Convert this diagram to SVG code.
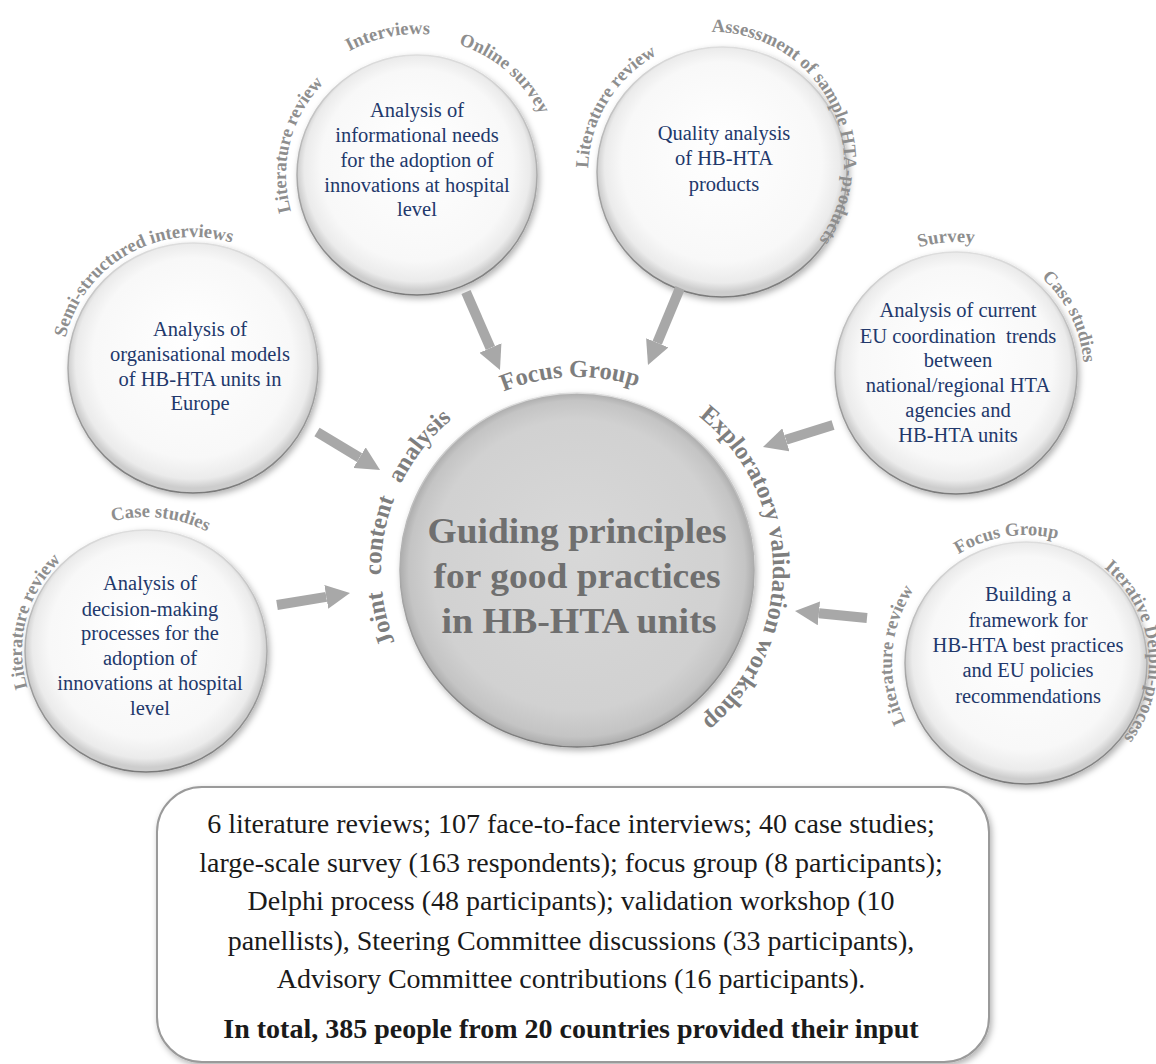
<svg xmlns="http://www.w3.org/2000/svg" width="1156" height="1064" viewBox="0 0 1156 1064">
<style>
.ct{font-family:"Liberation Serif","Times New Roman",serif;font-size:20.5px;fill:#22386b;text-anchor:middle}
.lb{font-family:"Liberation Serif","Times New Roman",serif;font-weight:bold;font-size:18.5px;fill:#8e8e8e;text-anchor:middle}
.lc{font-family:"Liberation Serif","Times New Roman",serif;font-weight:bold;font-size:24.5px;fill:#7e7e7e;text-anchor:middle}
.big{font-family:"Liberation Serif","Times New Roman",serif;font-weight:bold;font-size:35px;fill:#6f6f6f;text-anchor:middle}
.sm{fill:url(#gSmall);stroke:url(#gRim);stroke-width:1.5;filter:url(#sh)}
.bx{font-family:"Liberation Serif","Times New Roman",serif;font-size:28px;fill:#1a1a1a;text-anchor:middle}
.arr{stroke:#a8a8a8;stroke-width:10;fill:none;marker-end:url(#ah)}
</style>
<defs>
<radialGradient id="gSmall" cx="50%" cy="48%" r="50%" fx="50%" fy="38%">
<stop offset="0" stop-color="#ffffff"/>
<stop offset="0.8" stop-color="#f8f8f8"/>
<stop offset="0.94" stop-color="#ebebeb"/>
<stop offset="1" stop-color="#cdcdcd"/>
</radialGradient>
<radialGradient id="gCenter" cx="50%" cy="50%" r="50%" fx="50%" fy="42%">
<stop offset="0" stop-color="#d8d8d8"/>
<stop offset="0.82" stop-color="#d1d1d1"/>
<stop offset="0.95" stop-color="#c4c4c4"/>
<stop offset="1" stop-color="#adadad"/>
</radialGradient>
<linearGradient id="gRim" x1="0" y1="0" x2="0" y2="1">
<stop offset="0" stop-color="#dddddd"/>
<stop offset="1" stop-color="#7a7a7a"/>
</linearGradient>
<filter id="sh" x="-20%" y="-20%" width="140%" height="140%">
<feDropShadow dx="2" dy="3" stdDeviation="3" flood-color="#000" flood-opacity="0.3"/>
</filter>
<marker id="ah" viewBox="0 0 24 24" refX="0" refY="12" markerWidth="24" markerHeight="24" markerUnits="userSpaceOnUse" orient="auto">
<path d="M0,0 L24,12 L0,24 Z" fill="#a8a8a8"/>
</marker>
<path id="a123" d="M-21.36,121.13 A123,123 0 1 1 21.36,121.13"/>
<path id="a124" d="M-21.53,122.12 A124,124 0 1 1 21.53,122.12"/>
<path id="a128" d="M-22.23,126.06 A128,128 0 1 1 22.23,126.06"/>
<path id="a131" d="M-22.75,129.01 A131,131 0 1 1 22.75,129.01"/>
<path id="a134" d="M-23.27,131.96 A134,134 0 1 1 23.27,131.96"/>
<path id="a137" d="M-23.79,134.92 A137,137 0 1 1 23.79,134.92"/>
<path id="a141" d="M-24.48,138.86 A141,141 0 1 1 24.48,138.86"/>
<path id="a193" d="M-33.51,190.07 A193,193 0 1 1 33.51,190.07"/>
<path id="a196" d="M-34.04,193.02 A196,196 0 1 1 34.04,193.02"/>
</defs>
<rect width="1156" height="1064" fill="#ffffff"/>

<g id="n-info">
<circle class="sm" cx="417" cy="175" r="120"/>
<text class="ct"><tspan x="417" y="117">Analysis of</tspan><tspan x="417" y="142">informational needs</tspan><tspan x="417" y="167">for the adoption of</tspan><tspan x="417" y="192">innovations at hospital</tspan><tspan x="417" y="216">level</tspan></text>
<g transform="translate(417,175) rotate(-75.8)"><text class="lb"><textPath href="#a131" startOffset="50%">Literature review</textPath></text></g>
<g transform="translate(417,175) rotate(-11.8)"><text class="lb"><textPath href="#a141" startOffset="50%">Interviews</textPath></text></g>
<g transform="translate(417,175) rotate(40.8)"><text class="lb"><textPath href="#a137" startOffset="50%">Online survey</textPath></text></g>
</g>

<g id="n-quality">
<circle class="sm" cx="722" cy="172" r="125"/>
<text class="ct"><tspan x="724" y="140">Quality analysis</tspan><tspan x="724" y="165">of HB-HTA</tspan><tspan x="724" y="191">products</tspan></text>
<g transform="translate(722,172) rotate(-58.7)"><text class="lb"><textPath href="#a134" startOffset="50%">Literature review</textPath></text></g>
<g transform="translate(713,163) rotate(62.7)"><text class="lb"><textPath href="#a131" startOffset="50%">Assessment of sample HTA-products</textPath></text></g>
</g>

<g id="n-org">
<circle class="sm" cx="193" cy="368" r="125"/>
<text class="ct"><tspan x="200" y="336">Analysis of</tspan><tspan x="200" y="361">organisational models</tspan><tspan x="200" y="386">of HB-HTA units in</tspan><tspan x="200" y="410">Europe</tspan></text>
<g transform="translate(193,368) rotate(-29.75)"><text class="lb"><textPath href="#a131" startOffset="50%">Semi-structured interviews</textPath></text></g>
</g>

<g id="n-eu">
<circle class="sm" cx="956" cy="373" r="121"/>
<text class="ct" xml:space="preserve"><tspan x="958" y="317">Analysis of current</tspan><tspan x="958" y="343">EU coordination  trends</tspan><tspan x="958" y="367">between</tspan><tspan x="958" y="392">national/regional HTA</tspan><tspan x="958" y="417">agencies and</tspan><tspan x="958" y="442">HB-HTA units</tspan></text>
<g transform="translate(956,373) rotate(-4.2)"><text class="lb"><textPath href="#a131" startOffset="50%">Survey</textPath></text></g>
<g transform="translate(956,373) rotate(63.6)"><text class="lb"><textPath href="#a128" startOffset="50%">Case studies</textPath></text></g>
</g>

<g id="n-decision">
<circle class="sm" cx="146" cy="651" r="121"/>
<text class="ct"><tspan x="150" y="590">Analysis of</tspan><tspan x="150" y="616">decision-making</tspan><tspan x="150" y="640">processes for the</tspan><tspan x="150" y="665">adoption of</tspan><tspan x="150" y="690">innovations at hospital</tspan><tspan x="150" y="715">level</tspan></text>
<g transform="translate(146,651) rotate(6.2)"><text class="lb"><textPath href="#a134" startOffset="50%">Case studies</textPath></text></g>
<g transform="translate(146,651) rotate(-75.2)"><text class="lb"><textPath href="#a124" startOffset="50%">Literature review</textPath></text></g>
</g>

<g id="n-framework">
<circle class="sm" cx="1026" cy="663" r="121"/>
<text class="ct"><tspan x="1028" y="601">Building a</tspan><tspan x="1028" y="627">framework for</tspan><tspan x="1028" y="652">HB-HTA best practices</tspan><tspan x="1028" y="677">and EU policies</tspan><tspan x="1028" y="703">recommendations</tspan></text>
<g transform="translate(1026,663) rotate(-8.9)"><text class="lb"><textPath href="#a128" startOffset="50%">Focus Group</textPath></text></g>
<g transform="translate(1026,663) rotate(-86.5)"><text class="lb"><textPath href="#a134" startOffset="50%">Literature review</textPath></text></g>
<g transform="translate(1026,663) rotate(83.5)"><text class="lb"><textPath href="#a123" startOffset="50%">Iterative Delphi-process</textPath></text></g>
</g>

<g id="n-center">
<circle cx="577" cy="570" r="177" fill="url(#gCenter)" stroke="url(#gRim)" stroke-width="1.5" filter="url(#sh)"/>
<text class="big" x="577" y="543" textLength="299" lengthAdjust="spacingAndGlyphs">Guiding principles</text>
<text class="big" x="577" y="588" textLength="287" lengthAdjust="spacingAndGlyphs">for good practices</text>
<text class="big" x="579" y="633" textLength="275" lengthAdjust="spacingAndGlyphs">in HB-HTA units</text>
<g transform="translate(577,570) rotate(-2.1)"><text class="lc"><textPath href="#a193" startOffset="50%">Focus Group</textPath></text></g>
<g transform="translate(577,570) rotate(-75.7)"><text class="lc" word-spacing="10"><textPath href="#a196" startOffset="50%">Joint content analysis</textPath></text></g>
<g transform="translate(577,570) rotate(89.4)"><text class="lc"><textPath href="#a196" startOffset="50%">Exploratory validation workshop</textPath></text></g>
</g>

<g id="connectors">
<line class="arr" x1="466" y1="292" x2="490.4" y2="348"/>
<line class="arr" x1="680" y1="288" x2="657.2" y2="342.8"/>
<line class="arr" x1="317" y1="432" x2="359.5" y2="457.6"/>
<line class="arr" x1="833" y1="425" x2="785.9" y2="439.8"/>
<line class="arr" x1="277" y1="605" x2="326.3" y2="596.9"/>
<line class="arr" x1="867" y1="618" x2="818.9" y2="613.3"/>
</g>

<g id="n-summary">
<rect x="157" y="787" width="832" height="275" rx="45" ry="45" fill="#ffffff" stroke="#9a9a9a" stroke-width="2" filter="url(#sh)"/>
<text class="bx" x="571" y="833">6 literature reviews; 107 face-to-face interviews; 40 case studies;</text>
<text class="bx" x="571" y="872">large-scale survey (163 respondents); focus group (8 participants);</text>
<text class="bx" x="571" y="910">Delphi process (48 participants); validation workshop (10</text>
<text class="bx" x="571" y="950">panellists), Steering Committee discussions (33 participants),</text>
<text class="bx" x="571" y="988">Advisory Committee contributions (16 participants).</text>
<text class="bx" x="571" y="1038" font-weight="bold">In total, 385 people from 20 countries provided their input</text>
</g>
</svg>
